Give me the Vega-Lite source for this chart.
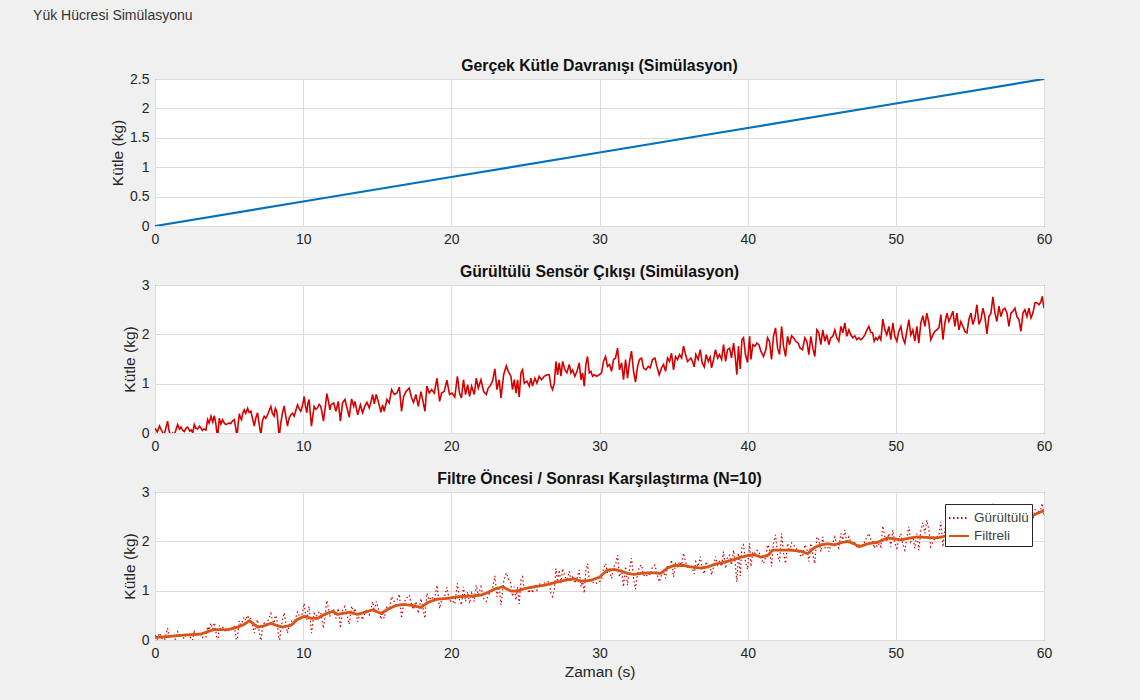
{
"$schema": "https://vega.github.io/schema/vega-lite/v6.json",
"background": "#f0f0f0",
"padding": {"left": 33, "top": 8, "right": 88, "bottom": 20},
"title": {"text": "Yük Hücresi Simülasyonu", "anchor": "start", "fontSize": 14, "fontWeight": "normal", "font": "Liberation Sans", "color": "#333333", "dx": -77, "offset": 35},
"spacing": 16,
"resolve": {"legend": {"color": "independent", "strokeDash": "independent"}},
"datasets": {
"gercek": [{"t":0,"v":0},{"t":10,"v":0.4167},{"t":20,"v":0.8333},{"t":30,"v":1.25},{"t":40,"v":1.6667},{"t":50,"v":2.0833},{"t":60,"v":2.5}],
"gurultulu": [
{"t":0,"v":0.1},{"t":0.15,"v":0.02},{"t":0.3,"v":0.14},{"t":0.45,"v":0.05},{"t":0.6,"v":-0.05},{"t":0.75,"v":0.12},{"t":0.85,"v":0.24},{"t":0.95,"v":0.05},{"t":1.08,"v":-0.1},{"t":1.2,"v":0.0},{"t":1.3,"v":-0.05},{"t":1.45,"v":0.1},{"t":1.53,"v":0.17},{"t":1.65,"v":0.08},{"t":1.75,"v":0.12},{"t":1.88,"v":0.05},{"t":1.98,"v":0.03},{"t":2.1,"v":0.1},{"t":2.2,"v":0.12},{"t":2.35,"v":0.04},{"t":2.45,"v":0.06},{"t":2.55,"v":0.0},{"t":2.65,"v":0.17},{"t":2.75,"v":0.1},{"t":2.88,"v":0.08},{"t":3.0,"v":0.14},{"t":3.1,"v":0.1},{"t":3.2,"v":0.05},{"t":3.3,"v":0.08},{"t":3.44,"v":0.06},{"t":3.55,"v":0.27},{"t":3.65,"v":0.2},{"t":3.78,"v":0.34},{"t":3.9,"v":0.22},{"t":4.0,"v":0.35},{"t":4.1,"v":0.2},{"t":4.22,"v":-0.1},{"t":4.34,"v":0.3},{"t":4.45,"v":0.18},{"t":4.56,"v":0.27},{"t":4.68,"v":0.2},{"t":4.79,"v":0.17},{"t":4.9,"v":0.19},{"t":5.0,"v":0.2},{"t":5.12,"v":0.19},{"t":5.22,"v":0.24},{"t":5.35,"v":0.27},{"t":5.45,"v":0.1},{"t":5.53,"v":-0.08},{"t":5.62,"v":0.2},{"t":5.69,"v":0.39},{"t":5.78,"v":0.3},{"t":5.84,"v":0.27},{"t":5.92,"v":0.4},{"t":6.02,"v":0.47},{"t":6.12,"v":0.4},{"t":6.25,"v":0.5},{"t":6.35,"v":0.42},{"t":6.47,"v":0.44},{"t":6.58,"v":0.3},{"t":6.7,"v":0.14},{"t":6.8,"v":0.3},{"t":6.92,"v":0.41},{"t":7.02,"v":0.2},{"t":7.15,"v":-0.05},{"t":7.25,"v":0.25},{"t":7.37,"v":0.34},{"t":7.48,"v":0.3},{"t":7.6,"v":0.37},{"t":7.7,"v":0.45},{"t":7.82,"v":0.54},{"t":7.92,"v":0.4},{"t":8.04,"v":0.34},{"t":8.12,"v":0.5},{"t":8.22,"v":0.44},{"t":8.3,"v":0.2},{"t":8.38,"v":-0.08},{"t":8.49,"v":0.2},{"t":8.6,"v":0.4},{"t":8.72,"v":0.55},{"t":8.82,"v":0.35},{"t":8.94,"v":0.14},{"t":9.05,"v":0.3},{"t":9.17,"v":0.37},{"t":9.28,"v":0.4},{"t":9.39,"v":0.34},{"t":9.5,"v":0.45},{"t":9.62,"v":0.57},{"t":9.72,"v":0.5},{"t":9.84,"v":0.44},{"t":9.95,"v":0.55},{"t":10.07,"v":0.74},{"t":10.15,"v":0.55},{"t":10.25,"v":0.41},{"t":10.32,"v":0.6},{"t":10.4,"v":0.68},{"t":10.48,"v":0.4},{"t":10.56,"v":0.14},{"t":10.65,"v":0.35},{"t":10.74,"v":0.54},{"t":10.85,"v":0.48},{"t":10.97,"v":0.51},{"t":11.08,"v":0.58},{"t":11.19,"v":0.54},{"t":11.28,"v":0.4},{"t":11.37,"v":0.24},{"t":11.48,"v":0.5},{"t":11.6,"v":0.8},{"t":11.72,"v":0.62},{"t":11.8,"v":0.47},
{"t":11.88,"v":0.57},{"t":12.06,"v":0.61},{"t":12.21,"v":0.44},{"t":12.37,"v":0.64},{"t":12.51,"v":0.24},{"t":12.66,"v":0.61},{"t":12.82,"v":0.68},{"t":12.96,"v":0.51},{"t":13.11,"v":0.32},{"t":13.27,"v":0.69},{"t":13.41,"v":0.54},{"t":13.5,"v":0.64},{"t":13.68,"v":0.37},{"t":13.86,"v":0.57},{"t":14.01,"v":0.41},{"t":14.17,"v":0.55},{"t":14.3,"v":0.62},{"t":14.46,"v":0.51},{"t":14.58,"v":0.64},{"t":14.69,"v":0.78},{"t":14.8,"v":0.59},{"t":14.93,"v":0.78},{"t":15.07,"v":0.64},{"t":15.25,"v":0.42},{"t":15.36,"v":0.57},{"t":15.47,"v":0.44},{"t":15.65,"v":0.68},{"t":15.81,"v":0.61},{"t":15.97,"v":0.88},{"t":16.15,"v":0.78},{"t":16.33,"v":0.81},{"t":16.49,"v":0.93},{"t":16.64,"v":0.44},{"t":16.78,"v":0.74},{"t":16.94,"v":0.84},{"t":17.16,"v":0.91},{"t":17.32,"v":0.71},{"t":17.45,"v":0.62},{"t":17.61,"v":0.78},{"t":17.77,"v":0.54},{"t":17.95,"v":0.84},{"t":18.06,"v":0.68},{"t":18.22,"v":0.44},{"t":18.35,"v":0.95},{"t":18.51,"v":0.81},{"t":18.67,"v":0.88},{"t":18.85,"v":0.81},{"t":19.03,"v":1.11},{"t":19.21,"v":0.64},{"t":19.34,"v":0.81},{"t":19.52,"v":0.84},{"t":19.7,"v":1.07},{"t":19.88,"v":0.78},{"t":20.05,"v":0.81},{"t":20.23,"v":0.73},{"t":20.41,"v":1.15},{"t":20.55,"v":0.81},{"t":20.68,"v":0.71},{"t":20.82,"v":1.08},{"t":20.96,"v":0.78},{"t":21.1,"v":0.98},{"t":21.23,"v":0.74},{"t":21.37,"v":0.95},{"t":21.55,"v":0.78},{"t":21.68,"v":1.11},{"t":21.82,"v":0.91},{"t":22.0,"v":1.08},{"t":22.18,"v":0.84},{"t":22.36,"v":0.78},{"t":22.49,"v":0.91},{"t":22.63,"v":0.96},{"t":22.78,"v":1.05},{"t":22.94,"v":1.3},{"t":23.08,"v":0.88},{"t":23.23,"v":1.08},{"t":23.35,"v":0.71},{"t":23.53,"v":1.18},{"t":23.71,"v":1.36},{"t":23.84,"v":1.25},
{"t":24.02,"v":1.15},{"t":24.13,"v":0.88},{"t":24.25,"v":1.08},{"t":24.36,"v":0.81},{"t":24.47,"v":1.08},{"t":24.58,"v":0.73},{"t":24.7,"v":1.22},{"t":24.81,"v":1.28},{"t":24.92,"v":1.01},{"t":25.1,"v":1.05},{"t":25.26,"v":0.95},{"t":25.37,"v":1.11},{"t":25.48,"v":0.95},{"t":25.64,"v":1.11},{"t":25.78,"v":1.01},{"t":25.93,"v":1.15},{"t":26.09,"v":1.08},{"t":26.27,"v":1.15},{"t":26.45,"v":1.18},{"t":26.61,"v":1.18},{"t":26.72,"v":0.95},{"t":26.83,"v":0.88},{"t":26.95,"v":1.01},{"t":27.06,"v":1.45},{"t":27.17,"v":1.18},{"t":27.28,"v":1.42},{"t":27.4,"v":1.15},{"t":27.51,"v":1.45},{"t":27.67,"v":1.28},{"t":27.8,"v":1.22},{"t":27.96,"v":1.39},{"t":28.07,"v":1.22},{"t":28.18,"v":1.28},{"t":28.34,"v":1.15},{"t":28.48,"v":1.25},{"t":28.63,"v":1.42},{"t":28.75,"v":1.08},{"t":28.86,"v":1.22},{"t":28.97,"v":0.95},{"t":29.08,"v":1.39},{"t":29.19,"v":1.55},{"t":29.31,"v":1.22},{"t":29.42,"v":1.25},{"t":29.53,"v":1.15},{"t":29.64,"v":1.18},{"t":29.82,"v":1.15},{"t":29.98,"v":1.18},{"t":30.14,"v":1.22},{"t":30.27,"v":1.45},{"t":30.41,"v":1.55},{"t":30.54,"v":1.35},{"t":30.68,"v":1.39},{"t":30.81,"v":1.25},{"t":30.95,"v":1.49},{"t":31.08,"v":1.52},{"t":31.22,"v":1.72},{"t":31.35,"v":1.28},{"t":31.49,"v":1.42},{"t":31.62,"v":1.08},{"t":31.76,"v":1.49},{"t":31.89,"v":1.11},{"t":32.03,"v":1.45},{"t":32.16,"v":1.66},{"t":32.3,"v":1.25},{"t":32.43,"v":1.03},{"t":32.57,"v":1.35},{"t":32.7,"v":1.49},{"t":32.84,"v":1.52},{"t":32.97,"v":1.32},{"t":33.13,"v":1.28},{"t":33.29,"v":1.35},{"t":33.42,"v":1.32},{"t":33.58,"v":1.49},{"t":33.74,"v":1.52},{"t":33.87,"v":1.35},{"t":34.03,"v":1.18},{"t":34.19,"v":1.32},{"t":34.32,"v":1.39},{"t":34.46,"v":1.25},{"t":34.59,"v":1.52},{"t":34.73,"v":1.45},{"t":34.86,"v":1.62},{"t":35.0,"v":1.28},{"t":35.13,"v":1.55},{"t":35.27,"v":1.49},{"t":35.4,"v":1.59},{"t":35.54,"v":1.52},{"t":35.67,"v":1.76},{"t":35.81,"v":1.59},{"t":35.94,"v":1.45},
{"t":36.17,"v":1.52},{"t":36.28,"v":1.45},{"t":36.39,"v":1.34},{"t":36.5,"v":1.59},{"t":36.66,"v":1.49},{"t":36.8,"v":1.69},{"t":36.93,"v":1.42},{"t":37.07,"v":1.34},{"t":37.2,"v":1.59},{"t":37.34,"v":1.45},{"t":37.47,"v":1.54},{"t":37.56,"v":1.32},{"t":37.7,"v":1.49},{"t":37.83,"v":1.69},{"t":37.97,"v":1.52},{"t":38.1,"v":1.59},{"t":38.24,"v":1.49},{"t":38.37,"v":1.79},{"t":38.51,"v":1.45},{"t":38.64,"v":1.69},{"t":38.78,"v":1.72},{"t":38.91,"v":1.52},{"t":39.05,"v":1.82},{"t":39.16,"v":1.55},{"t":39.27,"v":1.18},{"t":39.38,"v":1.76},{"t":39.5,"v":1.3},{"t":39.61,"v":1.89},{"t":39.72,"v":1.93},{"t":39.85,"v":1.59},{"t":39.99,"v":1.43},{"t":40.13,"v":1.96},{"t":40.22,"v":1.49},{"t":40.35,"v":1.79},{"t":40.49,"v":1.76},{"t":40.62,"v":1.82},{"t":40.76,"v":1.79},{"t":40.89,"v":1.66},{"t":41.07,"v":1.55},{"t":41.23,"v":1.69},{"t":41.34,"v":1.93},{"t":41.47,"v":1.86},{"t":41.61,"v":1.49},{"t":41.74,"v":1.96},{"t":41.88,"v":2.13},{"t":42.02,"v":1.72},{"t":42.15,"v":1.59},{"t":42.29,"v":2.16},{"t":42.42,"v":1.76},{"t":42.56,"v":1.55},{"t":42.69,"v":1.96},{"t":42.83,"v":1.79},{"t":42.96,"v":1.97},{"t":43.1,"v":1.93},{"t":43.25,"v":1.86},{"t":43.41,"v":1.82},{"t":43.54,"v":1.72},{"t":43.7,"v":1.69},{"t":43.86,"v":1.93},{"t":43.99,"v":1.86},{"t":44.13,"v":1.59},{"t":44.26,"v":1.96},{"t":44.4,"v":1.72},{"t":44.53,"v":1.55},{"t":44.67,"v":2.09},{"t":44.8,"v":2.03},{"t":44.94,"v":1.79},{"t":45.07,"v":2.09},{"t":45.21,"v":1.86},{"t":45.34,"v":1.99},{"t":45.48,"v":1.79},{"t":45.61,"v":1.93},{"t":45.75,"v":1.96},{"t":45.88,"v":2.09},{"t":46.02,"v":1.93},{"t":46.15,"v":1.86},{"t":46.29,"v":2.16},{"t":46.42,"v":2.03},{"t":46.56,"v":2.23},{"t":46.69,"v":1.96},{"t":46.83,"v":2.09},{"t":46.96,"v":1.99},{"t":47.1,"v":1.93},{"t":47.23,"v":1.97},{"t":47.37,"v":1.89},{"t":47.51,"v":1.93},{"t":47.64,"v":1.89},{"t":47.78,"v":1.93},{"t":47.91,"v":1.99},{"t":48.05,"v":2.09},{"t":48.18,"v":2.16},
{"t":48.31,"v":2.04},{"t":48.43,"v":2.03},{"t":48.54,"v":1.86},{"t":48.65,"v":1.93},{"t":48.76,"v":1.89},{"t":48.88,"v":1.96},{"t":48.99,"v":1.89},{"t":49.12,"v":2.31},{"t":49.26,"v":2.09},{"t":49.39,"v":1.99},{"t":49.53,"v":2.16},{"t":49.66,"v":1.89},{"t":49.8,"v":2.23},{"t":49.93,"v":1.96},{"t":50.07,"v":1.86},{"t":50.2,"v":2.06},{"t":50.34,"v":2.16},{"t":50.47,"v":1.93},{"t":50.61,"v":1.82},{"t":50.74,"v":2.06},{"t":50.88,"v":2.3},{"t":51.01,"v":1.99},{"t":51.15,"v":2.09},{"t":51.28,"v":1.86},{"t":51.42,"v":2.16},{"t":51.55,"v":1.82},{"t":51.69,"v":2.23},{"t":51.82,"v":2.38},{"t":51.96,"v":2.16},{"t":52.09,"v":2.43},{"t":52.23,"v":2.23},{"t":52.36,"v":1.89},{"t":52.5,"v":1.99},{"t":52.63,"v":2.06},{"t":52.77,"v":2.09},{"t":52.91,"v":2.13},{"t":53.04,"v":2.4},{"t":53.18,"v":1.89},{"t":53.31,"v":2.23},{"t":53.45,"v":2.43},{"t":53.58,"v":2.26},{"t":53.72,"v":2.36},{"t":53.85,"v":2.47},{"t":53.99,"v":2.16},{"t":54.12,"v":2.43},{"t":54.26,"v":2.09},{"t":54.39,"v":2.26},{"t":54.53,"v":2.16},{"t":54.66,"v":2.06},{"t":54.8,"v":2.03},{"t":54.93,"v":2.3},{"t":55.07,"v":2.43},{"t":55.2,"v":2.2},{"t":55.34,"v":2.33},{"t":55.47,"v":2.6},{"t":55.61,"v":2.2},{"t":55.74,"v":2.3},{"t":55.88,"v":2.53},{"t":56.01,"v":2.36},{"t":56.15,"v":2.01},{"t":56.28,"v":2.36},{"t":56.42,"v":2.43},{"t":56.55,"v":2.76},{"t":56.69,"v":2.43},{"t":56.82,"v":2.26},{"t":56.96,"v":2.57},{"t":57.09,"v":2.36},{"t":57.23,"v":2.5},{"t":57.36,"v":2.53},{"t":57.5,"v":2.43},{"t":57.63,"v":2.16},{"t":57.77,"v":2.43},{"t":57.91,"v":2.47},{"t":58.04,"v":2.53},{"t":58.17,"v":2.36},{"t":58.31,"v":2.3},{"t":58.44,"v":2.06},{"t":58.58,"v":2.43},{"t":58.71,"v":2.5},{"t":58.85,"v":2.36},{"t":58.98,"v":2.53},{"t":59.12,"v":2.33},{"t":59.25,"v":2.43},{"t":59.39,"v":2.64},{"t":59.52,"v":2.64},{"t":59.66,"v":2.6},{"t":59.78,"v":2.65},{"t":59.88,"v":2.77},{"t":60.0,"v":2.53}
],
"filtreli": [
{"t":0,"v":0.05},{"t":0.85,"v":0.07},{"t":1.98,"v":0.1},{"t":3.1,"v":0.12},{"t":3.55,"v":0.17},{"t":4.0,"v":0.21},{"t":4.9,"v":0.21},{"t":5.58,"v":0.26},{"t":6.03,"v":0.32},{"t":6.37,"v":0.39},{"t":6.59,"v":0.34},{"t":6.93,"v":0.26},{"t":7.38,"v":0.29},{"t":7.83,"v":0.34},{"t":8.16,"v":0.3},{"t":8.61,"v":0.26},{"t":9.18,"v":0.3},{"t":9.63,"v":0.42},{"t":10.08,"v":0.48},{"t":10.53,"v":0.44},{"t":10.98,"v":0.44},{"t":11.43,"v":0.52},{"t":11.99,"v":0.58},{"t":12.33,"v":0.52},{"t":12.66,"v":0.54},{"t":13.11,"v":0.56},{"t":13.68,"v":0.52},{"t":14.13,"v":0.56},{"t":14.69,"v":0.61},{"t":15.25,"v":0.54},{"t":15.7,"v":0.62},{"t":16.26,"v":0.7},{"t":16.82,"v":0.72},{"t":17.39,"v":0.7},{"t":17.95,"v":0.66},{"t":18.4,"v":0.76},{"t":19.07,"v":0.83},{"t":19.64,"v":0.84},{"t":20.09,"v":0.86},{"t":20.65,"v":0.88},{"t":21.32,"v":0.89},{"t":22.0,"v":0.91},{"t":22.45,"v":0.96},{"t":22.9,"v":1.03},{"t":23.46,"v":1.08},{"t":24.02,"v":0.99},{"t":24.47,"v":0.99},{"t":24.92,"v":1.04},{"t":25.6,"v":1.08},{"t":26.27,"v":1.11},{"t":26.95,"v":1.16},{"t":27.62,"v":1.21},{"t":28.29,"v":1.24},{"t":28.74,"v":1.19},{"t":29.42,"v":1.21},{"t":29.98,"v":1.27},{"t":30.54,"v":1.42},{"t":30.99,"v":1.43},{"t":31.44,"v":1.4},{"t":31.89,"v":1.35},{"t":32.34,"v":1.33},{"t":32.79,"v":1.35},{"t":33.24,"v":1.36},{"t":33.69,"v":1.36},{"t":34.14,"v":1.35},{"t":34.59,"v":1.46},{"t":35.04,"v":1.51},{"t":35.72,"v":1.51},{"t":36.17,"v":1.48},{"t":36.84,"v":1.46},{"t":37.29,"v":1.48},{"t":37.74,"v":1.53},{"t":38.42,"v":1.58},{"t":39.09,"v":1.63},{"t":39.54,"v":1.68},{"t":39.99,"v":1.71},{"t":40.44,"v":1.73},{"t":40.89,"v":1.68},{"t":41.34,"v":1.71},{"t":41.68,"v":1.82},{"t":42.24,"v":1.82},{"t":42.92,"v":1.82},{"t":43.59,"v":1.8},{"t":44.04,"v":1.75},{"t":44.49,"v":1.87},{"t":44.94,"v":1.93},{"t":45.39,"v":1.95},{"t":45.84,"v":1.93},{"t":46.29,"v":1.97},{"t":46.74,"v":2.0},{"t":47.19,"v":1.95},{"t":47.53,"v":1.89},{"t":48.09,"v":1.95},{"t":48.77,"v":1.98},{"t":49.44,"v":2.07},{"t":49.89,"v":2.05},{"t":50.34,"v":2.03},{"t":51.02,"v":2.07},{"t":51.46,"v":2.09},{"t":52.0,"v":2.08},{"t":52.81,"v":2.07},{"t":53.5,"v":2.12},{"t":54.5,"v":2.2},{"t":55.5,"v":2.3},{"t":56.5,"v":2.38},{"t":57.5,"v":2.42},{"t":58.5,"v":2.45},{"t":59.11,"v":2.5},{"t":59.56,"v":2.57},{"t":60,"v":2.62}
]
},
"vconcat": [
{
"title": "Gerçek Kütle Davranışı (Simülasyon)",
"width": 889, "height": 147,
"data": {"name": "gercek"},
"mark": {"type": "line", "color": "#0072BD", "strokeWidth": 2.2, "clip": true},
"encoding": {
"x": {"field": "t", "type": "quantitative", "scale": {"domain": [0, 60], "nice": false}, "axis": {"values": [0,10,20,30,40,50,60], "title": null}},
"y": {"field": "v", "type": "quantitative", "scale": {"domain": [0, 2.5], "nice": false}, "axis": {"values": [0,0.5,1,1.5,2,2.5], "format": "~g", "title": "Kütle (kg)"}}
}
},
{
"title": "Gürültülü Sensör Çıkışı (Simülasyon)",
"width": 889, "height": 148,
"data": {"name": "gurultulu"},
"mark": {"type": "line", "color": "#d40000", "strokeWidth": 1.6, "clip": true},
"encoding": {
"x": {"field": "t", "type": "quantitative", "scale": {"domain": [0, 60], "nice": false}, "axis": {"values": [0,10,20,30,40,50,60], "title": null}},
"y": {"field": "v", "type": "quantitative", "scale": {"domain": [0, 3], "nice": false}, "axis": {"values": [0,1,2,3], "format": "~g", "title": "Kütle (kg)"}}
}
},
{
"title": "Filtre Öncesi / Sonrası Karşılaştırma (N=10)",
"width": 889, "height": 148,
"layer": [
{
"data": {"name": "gurultulu"},
"mark": {"type": "line", "strokeWidth": 1.2, "clip": true},
"encoding": {
"x": {"field": "t", "type": "quantitative", "scale": {"domain": [0, 60], "nice": false}, "axis": {"values": [0,10,20,30,40,50,60], "title": "Zaman (s)"}},
"y": {"field": "v", "type": "quantitative", "scale": {"domain": [0, 3], "nice": false}, "axis": {"values": [0,1,2,3], "format": "~g", "title": "Kütle (kg)"}},
"color": {"datum": "Gürültülü", "type": "nominal", "scale": {"domain": ["Gürültülü", "Filtreli"], "range": ["#d40000", "#D95319"]}, "legend": {"title": null}},
"strokeDash": {"datum": "Gürültülü", "type": "nominal", "scale": {"domain": ["Gürültülü", "Filtreli"], "range": [[1.5, 2.5], [1, 0]]}, "legend": {"title": null}}
}
},
{
"data": {"name": "filtreli"},
"mark": {"type": "line", "strokeWidth": 2.8, "clip": true},
"encoding": {
"x": {"field": "t", "type": "quantitative"},
"y": {"field": "v", "type": "quantitative"},
"color": {"datum": "Filtreli", "type": "nominal"},
"strokeDash": {"datum": "Filtreli", "type": "nominal"}
}
}
]
}
],
"config": {
"font": "Liberation Sans",
"view": {"stroke": "#262626", "strokeWidth": 1, "fill": "white"},
"axis": {"domain": false, "grid": true, "gridColor": "#dcdcdc", "gridOpacity": 1, "ticks": false, "labelPadding": 6, "labelFlush": false, "labelFontSize": 14, "labelColor": "#262626", "labelFont": "Liberation Sans", "titleFontSize": 15.5, "titleFontWeight": "normal", "titleColor": "#262626", "titleFont": "Liberation Sans", "titlePadding": 4},
"title": {"fontSize": 15.8, "fontWeight": "bold", "color": "#111111", "offset": -3, "font": "Liberation Sans"},
"legend": {"orient": "top-right", "offset": 12, "strokeColor": "#262626", "fillColor": "white", "padding": 3, "symbolType": "stroke", "symbolSize": 400, "symbolStrokeWidth": 2, "labelFontSize": 13.5, "labelColor": "#404040", "rowPadding": 0, "labelOffset": 4}
}
}
